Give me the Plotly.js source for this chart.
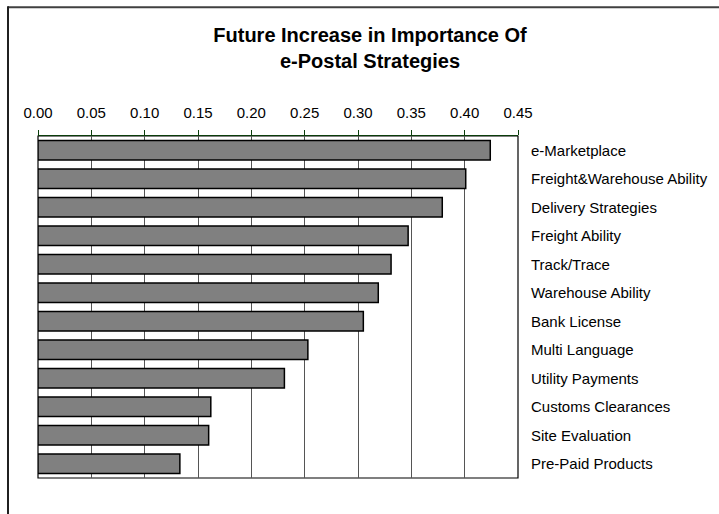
<!DOCTYPE html>
<html>
<head>
<meta charset="utf-8">
<script src="https://cdn.plot.ly/plotly-3.0.1.min.js"></script>
<style>
html,body{margin:0;padding:0;background:#fff;}
#chart{width:719px;height:514px;}
</style>
</head>
<body>
<div id="chart"></div>
<script>
var categories = ["e-Marketplace","Freight&Warehouse Ability","Delivery Strategies","Freight Ability","Track/Trace","Warehouse Ability","Bank License","Multi Language","Utility Payments","Customs Clearances","Site Evaluation","Pre-Paid Products"];
var values = [0.424,0.401,0.379,0.347,0.331,0.319,0.305,0.253,0.231,0.162,0.160,0.133];
var xTicks = [0,0.05,0.10,0.15,0.20,0.25,0.30,0.35,0.40,0.45];
var xTickText = ["0.00","0.05","0.10","0.15","0.20","0.25","0.30","0.35","0.40","0.45"];
var boundaries = [0,1,2,3,4,5,6,7,8,9,10,11,12];

var FONT = "Liberation Sans, Arial, sans-serif";
var GREEN = "#0a3d0a";

var trace = {
  type: "bar",
  orientation: "h",
  y: categories,
  x: values,
  marker: {color: "#808080", line: {color: "#000000", width: 1.5}},
  hoverinfo: "x+y"
};

var layout = {
  width: 719, height: 514,
  margin: {l: 38, r: 201, t: 135.5, b: 36, pad: 0},
  paper_bgcolor: "#ffffff",
  plot_bgcolor: "#ffffff",
  showlegend: false,
  bargap: 0.32,
  font: {family: FONT, size: 15, color: "#000"},
  title: {
    text: "<b>Future Increase in Importance Of<br>e-Postal Strategies</b>",
    font: {family: FONT, size: 20, color: "#000"},
    x: 370/719, xanchor: "center", xref: "container",
    y: 1 - 42/514, yanchor: "top", yref: "container"
  },
  xaxis: {
    side: "top",
    range: [0, 0.45],
    tickvals: xTicks, ticktext: xTickText,
    showgrid: true, gridcolor: "#555555", gridwidth: 1,
    zeroline: false,
    showline: true, linecolor: GREEN, linewidth: 1.2,
    ticks: "outside", ticklen: 5, tickcolor: GREEN, tickwidth: 1,
    tickfont: {family: FONT, size: 15, color: "#000"},
    ticklabelstandoff: 6,
    fixedrange: true
  },
  yaxis: {
    type: "category",
    autorange: "reversed",
    side: "right",
    showgrid: false, zeroline: false, showline: false,
    ticks: "",
    tickfont: {family: FONT, size: 15, color: "#000"},
    ticklabelstandoff: 12,
    fixedrange: true
  },
  yaxis2: {
    overlaying: "y", side: "left", anchor: "x",
    range: [0, 12], tickvals: boundaries,
    showticklabels: false, showgrid: false, zeroline: false,
    showline: true, linecolor: GREEN, linewidth: 1.2,
    ticks: "outside", ticklen: 5, tickcolor: GREEN, tickwidth: 1,
    fixedrange: true
  },
  yaxis3: {
    overlaying: "y", side: "left", anchor: "x",
    range: [0, 12], tickvals: boundaries,
    showticklabels: false, showgrid: false, zeroline: false,
    showline: false,
    ticks: "inside", ticklen: 5, tickcolor: GREEN, tickwidth: 1,
    fixedrange: true
  },
  shapes: [
    {type: "rect", xref: "paper", yref: "paper", x0: 0, x1: 1, y0: 0, y1: 1,
     line: {color: "#000000", width: 1.2}, layer: "below"},
    {type: "line", xref: "paper", yref: "paper", x0: -0.0625, x1: 2, y0: 1 + 129/342.5, y1: 1 + 129/342.5,
     line: {color: "#404040", width: 2}},
    {type: "line", xref: "paper", yref: "paper", x0: -0.0625, x1: -0.0625, y0: -1, y1: 1 + 130/342.5,
     line: {color: "#202020", width: 2}}
  ]
};

Plotly.newPlot("chart", [trace], layout, {displayModeBar: false, staticPlot: true});
</script>
</body>
</html>
